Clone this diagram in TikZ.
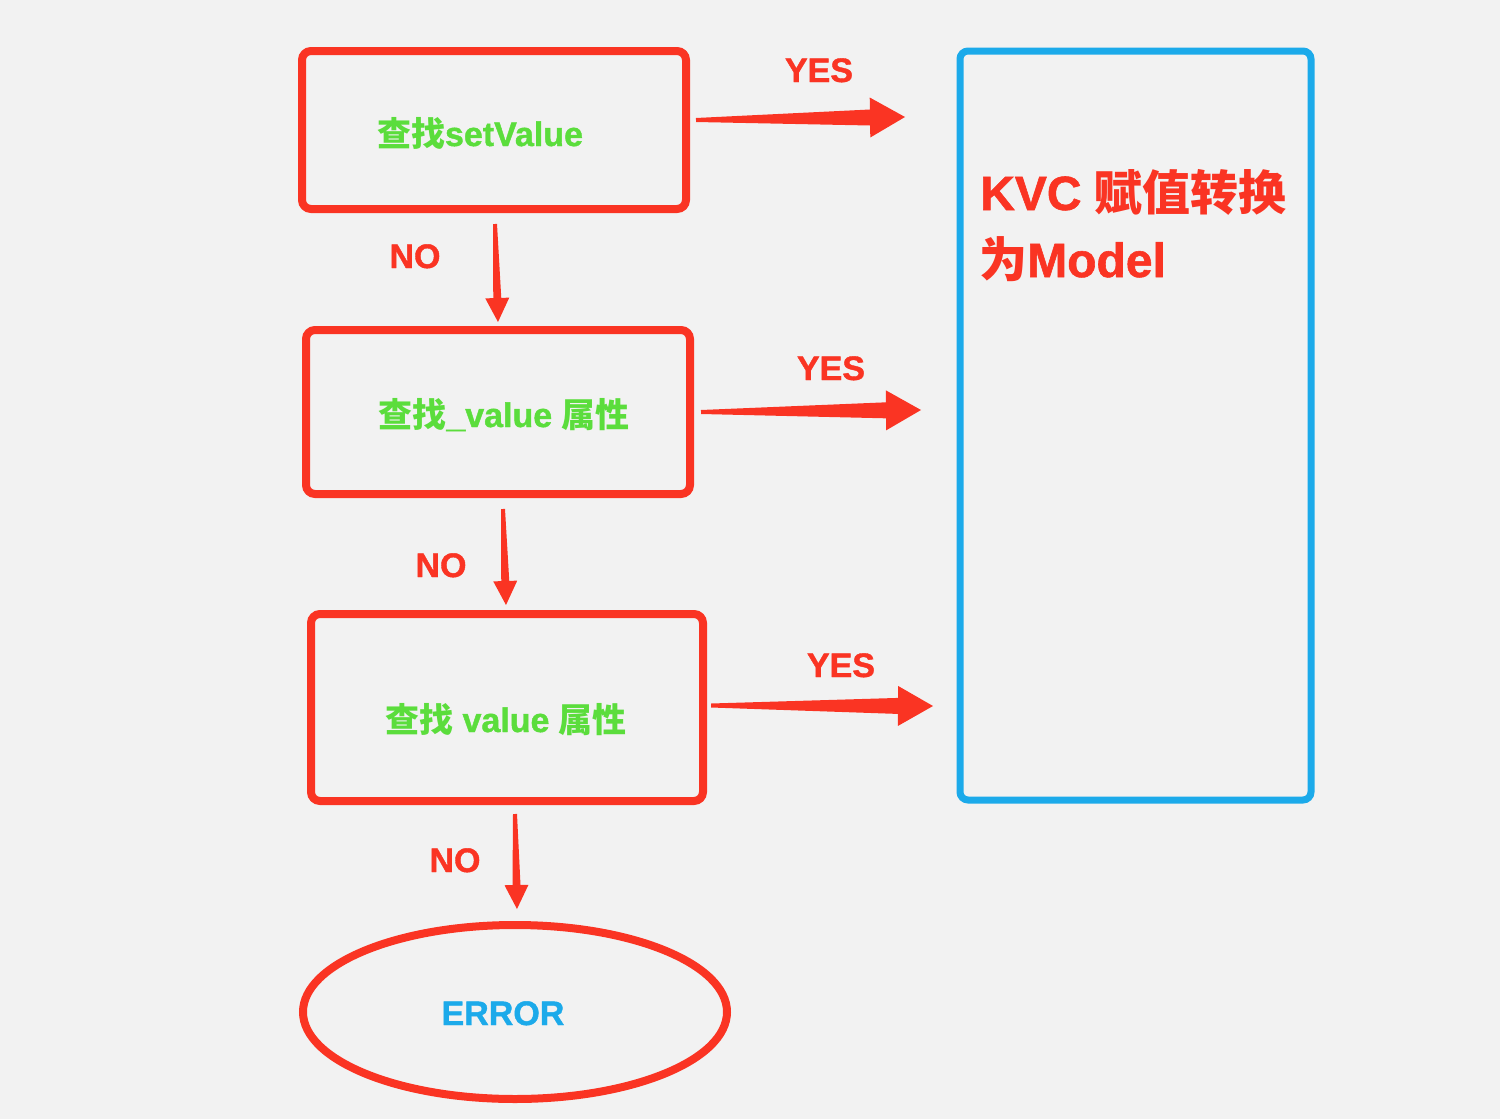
\documentclass[tikz,border=0pt]{standalone}
\usepackage{fontspec}
\setmainfont{Liberation Sans}[BoldFeatures={FakeBold=1.2}]
\newfontfamily\cjk{Noto Sans CJK SC}
\usetikzlibrary{calc,shapes.geometric}
\definecolor{bg}{HTML}{F2F2F2}
\definecolor{kred}{HTML}{FA3423}
\definecolor{kgreen}{HTML}{5BDD3C}
\definecolor{kblue}{HTML}{1CAAEA}
\newcommand\taparrow[5]{% start, end, head length, head half width, shaft half width at head
  \path coordinate (hb) at ($(#2)!#3!(#1)$);
  \fill[kred] ($(#1)!2pt!90:(#2)$) -- ($(hb)!#5!90:(#2)$) -- ($(hb)!#4!90:(#2)$) -- (#2)
    -- ($(hb)!#4!-90:(#2)$) -- ($(hb)!#5!-90:(#2)$) -- ($(#1)!2pt!-90:(#2)$) -- cycle;}
\tikzset{
  redbox/.style={draw=kred, line width=8pt, rounded corners=9pt, inner sep=0pt},
  bluebox/.style={draw=kblue, line width=7pt, rounded corners=8pt, inner sep=0pt},
  greentext/.style={anchor=base, text=kgreen, font=\bfseries\fontsize{34}{40}\selectfont, inner sep=0pt},
  yntext/.style={anchor=base, text=kred, font=\bfseries\fontsize{34}{40}\selectfont, inner sep=0pt},
  kvctext/.style={anchor=base west, text=kred, font=\bfseries\fontsize{48}{56}\selectfont, inner sep=0pt},
}
\begin{document}
\begin{tikzpicture}[x=1pt,y=-1pt]
\fill[bg] (0,0) rectangle (1500,1119);
\useasboundingbox (0,0) rectangle (1500,1119);

% boxes
\node[redbox, minimum width=384pt, minimum height=158pt] (b1) at (494,130) {};
\node[redbox, minimum width=384pt, minimum height=164pt] (b2) at (498,412) {};
\node[redbox, minimum width=392pt, minimum height=187pt] (b3) at (507,707.5) {};
\node[bluebox, minimum width=351pt, minimum height=749pt] (kvc) at (1135.5,425.5) {};
\node[ellipse, draw=kred, line width=8pt, minimum width=424pt, minimum height=174pt] (err) at (515,1012) {};

% texts
\node[greentext] (t1) at (480,146) {{\cjk\bfseries 查找}setValue};
\node[greentext] (t2) at (504,427) {{\cjk\bfseries 查找}\_value {\cjk\bfseries 属性}};
\node[greentext] (t3) at (506,732) {{\cjk\bfseries 查找} value {\cjk\bfseries 属性}};
\node[kvctext] (k1) at (980,210) {KVC {\cjk\bfseries 赋值转换}};
\node[kvctext] (k2) at (979,277) {{\cjk\bfseries 为}Model};
\node[greentext, text=kblue] (et) at (503,1025) {ERROR};

% labels
\node[yntext] (yes1) at (819,82) {YES};
\node[yntext] (yes2) at (831,380) {YES};
\node[yntext] (yes3) at (841,677) {YES};
\node[yntext] (no1) at (415,268) {NO};
\node[yntext] (no2) at (441,577) {NO};
\node[yntext] (no3) at (455,872) {NO};

% arrow coordinates
\coordinate (y1s) at ($(b1.east)+(6,-10)$);
\coordinate (y1e) at (905,117);
\coordinate (y2s) at ($(b2.east)+(7,0)$);
\coordinate (y2e) at (921,410);
\coordinate (y3s) at ($(b3.east)+(4,-2)$);
\coordinate (y3e) at (933,706);
\coordinate (n1s) at ($(b1.south)+(1,11)$);
\coordinate (n1e) at ($(b2.north)+(0,-4)$);
\coordinate (n2s) at ($(b2.south)+(5,11)$);
\coordinate (n2e) at ($(b3.north)+(-1,-5)$);
\coordinate (n3s) at ($(b3.south)+(8,9)$);
\coordinate (n3e) at ($(err.north)+(2,-12)$);

\taparrow{y1s}{y1e}{35pt}{20pt}{8pt}
\taparrow{y2s}{y2e}{35pt}{20pt}{8pt}
\taparrow{y3s}{y3e}{35pt}{20pt}{8pt}
\taparrow{n1s}{n1e}{24pt}{12pt}{4pt}
\taparrow{n2s}{n2e}{24pt}{12pt}{4pt}
\taparrow{n3s}{n3e}{24pt}{12pt}{4pt}
\end{tikzpicture}
\end{document}
